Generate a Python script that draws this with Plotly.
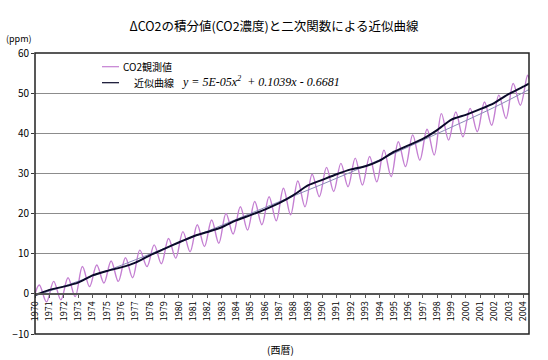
import plotly.graph_objects as go

# ---- data ----
years = list(range(1970, 2005))
year_labels = [str(y) for y in years]

# observed (purple) series: start, seasonal peaks / troughs, end  (decimal year, ppm)
obs_t = [1970.0,
         1970.3, 1970.8, 1971.3, 1971.8, 1972.3, 1972.8, 1973.3, 1973.8, 1974.3, 1974.8,
         1975.3, 1975.8, 1976.3, 1976.8, 1977.3, 1977.8, 1978.3, 1978.8, 1979.3, 1979.8,
         1980.3, 1980.8, 1981.3, 1981.8, 1982.3, 1982.8, 1983.3, 1983.8, 1984.3, 1984.8,
         1985.3, 1985.8, 1986.3, 1986.8, 1987.3, 1987.8, 1988.3, 1988.8, 1989.3, 1989.8,
         1990.3, 1990.8, 1991.3, 1991.8, 1992.3, 1992.8, 1993.3, 1993.8, 1994.3, 1994.8,
         1995.3, 1995.8, 1996.3, 1996.8, 1997.3, 1997.8, 1998.3, 1998.8, 1999.3, 1999.8,
         2000.3, 2000.8, 2001.3, 2001.8, 2002.3, 2002.8, 2003.3, 2003.8, 2004.3, 2004.4]
obs_v = [0.0,
         2.2, -2.0, 3.1, -1.5, 4.0, -0.7, 6.8, 1.8, 7.2, 2.7,
         8.2, 3.1, 9.0, 4.0, 10.9, 6.8, 12.2, 7.5, 13.8, 8.9,
         15.5, 10.5, 17.2, 11.8, 18.4, 12.6, 20.0, 14.9, 21.7, 15.9,
         23.0, 17.2, 24.2, 18.2, 26.3, 19.7, 28.1, 21.7, 29.8, 24.2,
         31.5, 25.5, 32.5, 26.7, 33.8, 27.1, 34.2, 27.9, 35.8, 29.2,
         37.9, 31.7, 39.6, 33.3, 41.0, 34.6, 44.9, 38.3, 45.3, 39.1,
         46.2, 40.4, 47.8, 42.0, 49.5, 43.7, 52.4, 47.0, 54.5, 53.6]

# smoothed (black) series, read at the start of each year
trend_t = years + [2004.4]
trend_v = [-0.3, 1.0, 1.8, 2.8, 4.6, 5.7, 6.6, 7.8, 9.6, 11.2,
           12.8, 14.3, 15.4, 16.6, 18.3, 19.6, 21.0, 22.6, 24.6, 27.0,
           28.4, 29.8, 31.0, 31.8, 33.2, 35.4, 37.0, 38.6, 40.8, 43.4,
           44.6, 46.0, 47.6, 49.8, 51.6, 52.4]

# thin quadratic fit line
fit_t = [1970.0, 1974.0, 1978.0, 1982.0, 1986.0, 1990.0, 1994.0, 1998.0, 2002.0, 2004.4]
fit_v = [-0.5, 4.4, 9.9, 15.6, 21.5, 27.3, 33.4, 39.9, 46.5, 50.9]

legend_names = ["CO2観測値", "近似曲線"]
equation = "y = 5E-05x<sup>2</sup>  + 0.1039x - 0.6681"

PURPLE = "#c47fd2"
DARK = "#0a0a2a"
JP = "Noto Sans CJK JP"

# plot-area geometry (pixels) used to place the legend / labels
L, R, T, B = 35, 529, 53, 334
W, H = R - L, B - T


def px(x):
    return (x - L) / W


def py(y):
    return (B - y) / H


fig = go.Figure()
fig.add_trace(go.Scatter(x=obs_t, y=obs_v, mode="lines", name=legend_names[0],
                         line=dict(color=PURPLE, width=1.4, shape="spline", smoothing=1.0)))
fig.add_trace(go.Scatter(x=fit_t, y=fit_v, mode="lines", name="fit",
                         line=dict(color="#8a8ab8", width=1, shape="spline")))
fig.add_trace(go.Scatter(x=trend_t, y=trend_v, mode="lines", name=legend_names[1],
                         line=dict(color=DARK, width=2, shape="spline", smoothing=0.6)))

shapes = [dict(type="rect", xref="paper", yref="paper", x0=0, x1=1, y0=0, y1=1,
               line=dict(color="#222222", width=1.5), layer="above")]
# legend samples
for ly, col in [(66.7, PURPLE), (82.7, DARK)]:
    shapes.append(dict(type="line", xref="paper", yref="paper",
                       x0=px(102), x1=px(119), y0=py(ly), y1=py(ly),
                       line=dict(color=col, width=1.2)))

annotations = [
    dict(text=legend_names[0], xref="paper", yref="paper", x=px(121), y=py(66.7),
         xanchor="left", yanchor="middle", showarrow=False, font=dict(family=JP, size=10)),
    dict(text=legend_names[1], xref="paper", yref="paper", x=px(132), y=py(82.7),
         xanchor="left", yanchor="middle", showarrow=False, font=dict(family=JP, size=10)),
    dict(text="<i>" + equation + "</i>", xref="paper", yref="paper",
         x=px(180), y=py(81.5), xanchor="left", yanchor="middle",
         showarrow=False, font=dict(family="Liberation Serif", size=12, color="black")),
    dict(text="(ppm)", xref="paper", yref="paper", x=px(19), y=py(38),
         xanchor="center", yanchor="middle", showarrow=False,
         font=dict(family=JP, size=9)),
    dict(text="(西暦)", xref="paper", yref="paper", x=px(280), y=py(349),
         xanchor="center", yanchor="middle", showarrow=False,
         font=dict(family=JP, size=10)),
]

fig.update_layout(
    width=548, height=360, autosize=False,
    margin=dict(l=L, r=548 - R, t=T, b=360 - B),
    paper_bgcolor="white", plot_bgcolor="white",
    font=dict(family=JP, color="black", size=10),
    title=dict(text="ΔCO2の積分値(CO2濃度)と二次関数による近似曲線",
               x=0.5, xanchor="center", y=1 - 27 / 360, yanchor="middle",
               font=dict(family=JP, size=12.5, color="black")),
    showlegend=False,
    xaxis=dict(range=[1970, 2004.4], tickvals=years, ticktext=year_labels,
               tickangle=-90, tickfont=dict(family=JP, size=9),
               showgrid=False, zeroline=False,
               showline=True, linecolor="#555555", linewidth=1.5,
               ticks="outside", ticklen=3, tickcolor="#555555",
               anchor="free", position=10 / 70),
    yaxis=dict(range=[-10, 60], tickvals=[-10, 0, 10, 20, 30, 40, 50, 60],
               tickfont=dict(family=JP, size=10),
               showgrid=True, gridcolor="#8c8c8c", gridwidth=1,
               zeroline=False, showline=False,
               ticks="outside", ticklen=3, tickcolor="#333333"),
    shapes=shapes,
    annotations=annotations,
)

fig.write_html("out.html", config={"displayModeBar": False},
               post_script="document.body.style.margin='0';")
